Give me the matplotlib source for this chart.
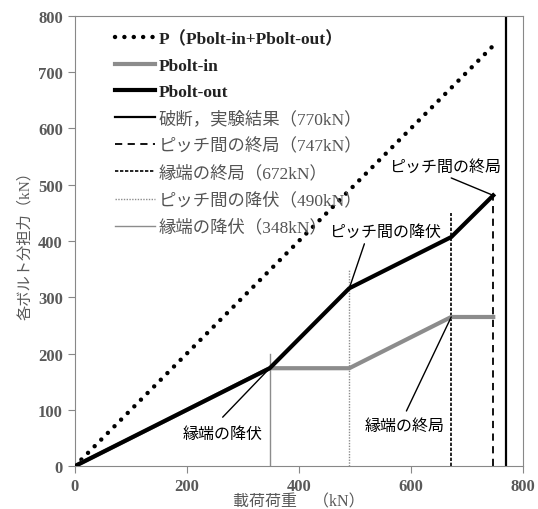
import numpy as np
import matplotlib.pyplot as plt

plt.rcParams['font.family'] = ['Liberation Serif', 'Noto Sans CJK JP', 'DejaVu Sans']

# 荷重段階 (kN)
load = [0, 348, 490, 672, 747]
p_total = [0, 348, 490, 672, 747]
pbolt_in = [0, 174, 174, 265, 265]
pbolt_out = [0, 174, 316, 407, 481]

# 縦線: 荷重値, 上端, ラベル
vline_x = [770, 747, 672, 490, 348]
vline_top = [800, 490, 450, 350, 200]
vline_labels = ['破断，実験結果（770kN）', 'ピッチ間の終局（747kN）', '縁端の終局（672kN）',
                'ピッチ間の降伏（490kN）', '縁端の降伏（348kN）']

# 注記
note_text = ['ピッチ間の終局', 'ピッチ間の降伏', '縁端の降伏', '縁端の終局']
note_pos = [(661, 532), (553, 416), (264, 57), (588, 71)]
note_from = [(672, 512), (517, 395), (264, 87), (592, 98)]
note_to = [(747, 481), (490, 316), (348, 174), (672, 265)]

fig = plt.figure(figsize=(5.38, 5.10), dpi=100)
ax = fig.add_axes([0.139, 0.084, 0.833, 0.883])

ax.plot(load, p_total, color='black', lw=3.2, linestyle=(0, (0.01, 2.1)),
        dash_capstyle='round', label='P（Pbolt-in+Pbolt-out）')
ax.plot(load, pbolt_in, color='#8c8c8c', lw=3, label='Pbolt-in', zorder=3)
ax.plot(load, pbolt_out, color='black', lw=3, label='Pbolt-out', zorder=4)

styles = [dict(color='black', lw=1.6, ls='-'),
          dict(color='black', lw=1.3, ls=(0, (4, 3))),
          dict(color='black', lw=1.2, ls=(0, (2, 1))),
          dict(color='#8c8c8c', lw=1.0, ls=(0, (1, 1))),
          dict(color='#8c8c8c', lw=1.0, ls='-')]
for x, top, lab, st in zip(vline_x, vline_top, vline_labels, styles):
    ax.plot([x, x], [0, top], label=lab, **st)

for t, pos, a, b in zip(note_text, note_pos, note_from, note_to):
    ax.annotate('', xy=b, xytext=a,
                arrowprops=dict(arrowstyle='-', lw=1, color='black', shrinkA=0, shrinkB=0))
    ax.text(pos[0], pos[1], t, fontsize=11.5, ha='center', va='center')

ax.set_xlim(0, 800)
ax.set_ylim(0, 800)
ax.set_xticks(np.arange(0, 801, 200))
ax.set_yticks(np.arange(0, 801, 100))
for s in ax.spines.values():
    s.set_color('#888888')
ax.tick_params(colors='#888888', direction='out', length=5, labelcolor='#595959',
               labelsize=12)
for lbl in ax.get_xticklabels() + ax.get_yticklabels():
    lbl.set_fontweight('bold')

ax.set_xlabel('載荷荷重　（kN）', fontsize=11.5, color='#595959', labelpad=0)
ax.set_ylabel('各ボルト分担力（kN）', fontsize=11, color='#595959', labelpad=4)

leg = ax.legend(loc='upper left', bbox_to_anchor=(0.075, 0.983), frameon=False,
                fontsize=12.5, handlelength=2.3, handletextpad=0.2, labelspacing=0.6,
                borderaxespad=0)
for i, txt in enumerate(leg.get_texts()):
    txt.set_color('#222222' if i < 3 else '#555555')
    txt.set_fontweight('bold' if i < 3 else 'normal')

fig.savefig('out.png', dpi=100)
